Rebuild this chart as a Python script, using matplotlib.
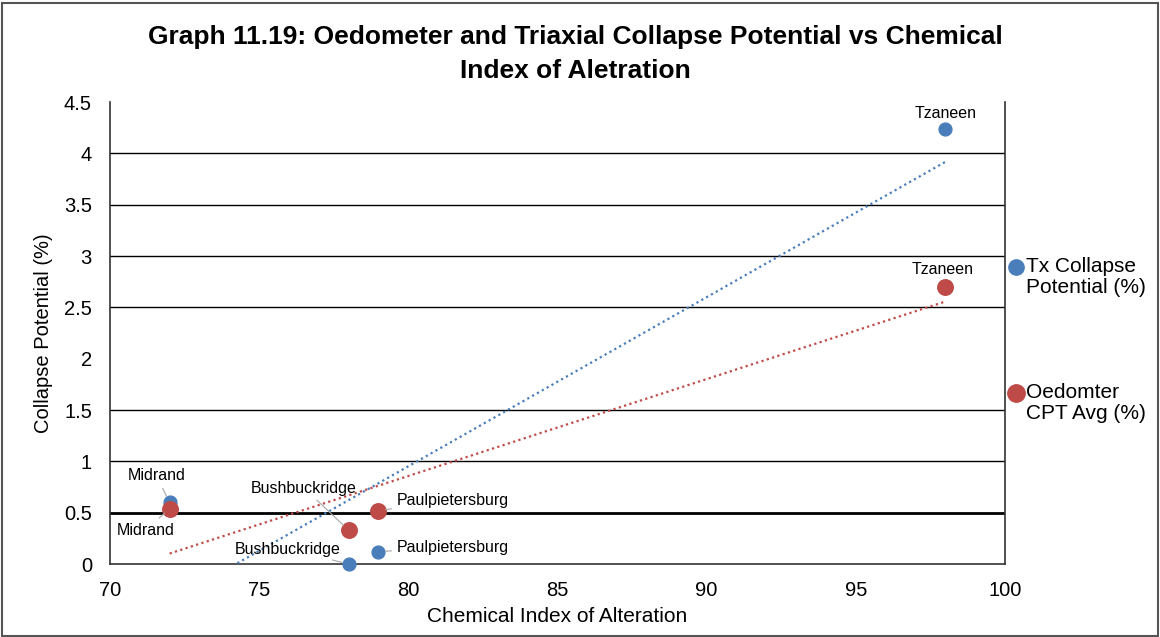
import numpy as np
import matplotlib.pyplot as plt
from matplotlib.patches import Rectangle
from matplotlib.lines import Line2D

# data
sites = ['Midrand', 'Bushbuckridge', 'Paulpietersburg', 'Tzaneen']
cia = [72, 78, 79, 98]
tx_cp = [0.6, 0.0, 0.12, 4.24]
oedo_cp = [0.54, 0.33, 0.52, 2.7]

blue = '#4a7ebb'
red = '#be4b48'

plt.rcParams['font.family'] = ['Liberation Sans', 'DejaVu Sans']

fig = plt.figure(figsize=(11.6, 6.37), dpi=100)
ax = fig.add_axes([110 / 1160, 1 - 564 / 637, 895 / 1160, 462 / 637])

ax.set_xlim(70, 100)
ax.set_ylim(0, 4.5)
ax.set_xticks(np.arange(70, 101, 5))
ax.set_yticks(np.arange(0, 4.51, 0.5))
ax.set_yticklabels(['0', '0.5', '1', '1.5', '2', '2.5', '3', '3.5', '4', '4.5'])
ax.tick_params(length=0, labelsize=14.5)
ax.tick_params(axis='x', pad=12)
ax.tick_params(axis='y', pad=13)

# horizontal gridlines (the original skips 2 and 4.5, and 0.5 is heavier)
for g in [1, 1.5, 2.5, 3, 3.5, 4]:
    ax.axhline(g, color='black', lw=1, zorder=1)
ax.axhline(0.5, color='black', lw=2, zorder=1)

ax.spines['top'].set_visible(False)
for s in ['left', 'right', 'bottom']:
    ax.spines[s].set_color('#333333')
    ax.spines[s].set_linewidth(1.2)

ax.scatter(cia, tx_cp, s=85, color=blue, zorder=4, clip_on=False)
ax.scatter(cia, oedo_cp, s=125, color=red, zorder=4, clip_on=False)

# linear trendlines
xs = np.array([min(cia), max(cia)])
for y, c in [(tx_cp, blue), (oedo_cp, red)]:
    k, b = np.polyfit(cia, y, 1)
    ax.plot(xs, k * xs + b, ls=(0, (1, 1.5)), color=c, lw=1.6, zorder=3)

ax.set_xlabel('Chemical Index of Alteration', fontsize=15, labelpad=5)
ax.set_ylabel('Collapse Potential (%)', fontsize=14.5, labelpad=8)

# data labels with leader lines: (text x, text y) in data coords
lab = dict(fontsize=11.5, ha='center', va='center', zorder=5)
lead = dict(arrowstyle='-', color='#a6a6a6', lw=0.8, shrinkA=2, shrinkB=5)
tx_pos = [(71.55, 0.86), (75.95, 0.145), (81.5, 0.165), (98.0, 4.39)]
oe_pos = [(71.2, 0.33), (76.5, 0.74), (81.5, 0.62), (97.9, 2.87)]
for i, name in enumerate(sites):
    ax.annotate(name, (cia[i], tx_cp[i]), xytext=tx_pos[i],
                arrowprops=lead if i < 3 else None, **lab)
    ax.annotate(name, (cia[i], oedo_cp[i]), xytext=oe_pos[i],
                arrowprops=lead if i < 3 else None, **lab)

# legend on the right, marker level with the first line of each entry
for lbl, c, ms, ytop in [('Tx Collapse\nPotential (%)', blue, 11, 267),
                         ('Oedomter\nCPT Avg (%)', red, 12.5, 393)]:
    fig.add_artist(Line2D([1016 / 1160], [1 - ytop / 637], marker='o', ms=ms,
                          color=c, ls='none', transform=fig.transFigure))
    fig.text(1026 / 1160, 1 - (ytop - 10) / 637, lbl, ha='left', va='top',
             fontsize=15, linespacing=1.15)

fig.text(575 / 1160, 1 - 54 / 637,
         'Graph 11.19: Oedometer and Triaxial Collapse Potential vs Chemical\nIndex of Aletration',
         ha='center', va='center', fontsize=19, fontweight='bold',
         linespacing=1.55)

fig.patches.append(Rectangle((0.002, 0.002), 0.996, 0.993, transform=fig.transFigure,
                             fill=False, edgecolor='#555555', lw=1.5))

fig.savefig('out.png', dpi=100)
